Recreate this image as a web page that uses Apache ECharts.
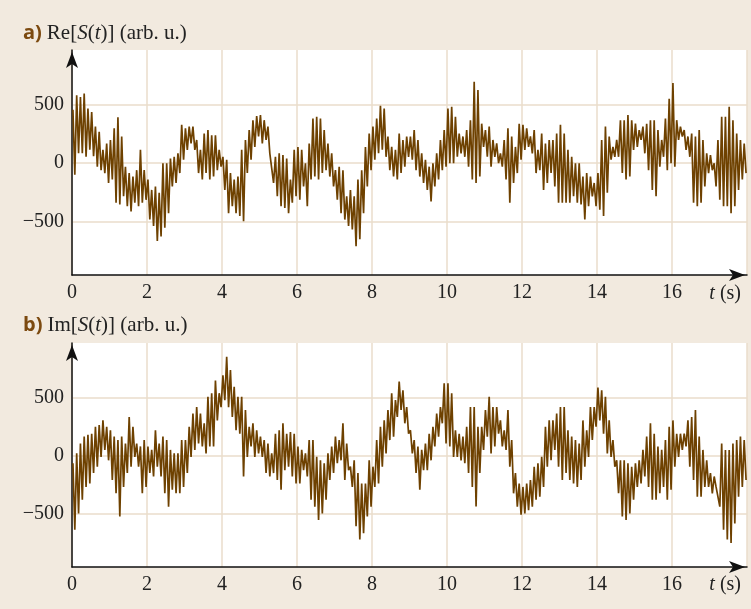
<!DOCTYPE html>
<html>
<head>
<meta charset="utf-8">
<script src="https://cdn.jsdelivr.net/npm/echarts@6/dist/echarts.min.js"></script>
<style>
  html, body { margin: 0; padding: 0; background: #f2eadf; }
  #chart { width: 751px; height: 609px; }
</style>
</head>
<body>
<div id="chart"></div>
<script>
// upper / lower swing of the fast oscillation in each 0.1 s slice
let reHigh = [
    460, 585, 570, 600, 470, 440, 315, 270, 115, 170,
    200, 300, 395, 230, -30, -85, -115, -60, 115, -60,
    -140, -230, -200, -255, 0, 0, 40, 55, 85, 330,
    300, 315, 315, 200, 115, 255, 285, 240, 240, 115,
    55, 30, -85, -140, -115, 115, 200, 285, 370, 405,
    415, 370, 315, 85, 55, 85, 70, 40, -140, 115,
    140, 115, 0, 170, 385, 400, 385, 285, 170, 85,
    -60, -30, -60, -285, -230, -285, -140, -60, 140, 255,
    315, 385, 495, 470, 230, 140, 115, 255, 200, 230,
    230, 285, 200, 85, 30, -30, 0, 85, 200, 285,
    470, 485, 400, 255, 230, 285, 370, 700, 630, 340,
    285, 315, 200, 170, 85, 200, 300, 230, 140, 340,
    330, 300, 230, 285, 115, 255, 170, 200, 200, 255,
    330, 255, 115, 55, 0, 0, -115, -85, -115, -170,
    -85, 200, 315, 230, 140, 200, 370, 370, 415, 370,
    340, 285, 315, 340, 370, 370, 285, 200, 385, 555,
    690, 370, 315, 285, 230, 255, 230, 285, 200, 85,
    70, 0, 200, 400, 400, 485, 370, 255, 200, 170
];
let reLow = [
    -100, 85, 85, 55, 115, 60, -30, -60, -85, -170,
    -140, -340, -355, -285, -370, -415, -340, -370, -340, -315,
    -485, -540, -670, -630, -555, -430, -200, -170, -85, 30,
    115, 170, 115, -85, -140, -85, -140, -115, -60, -30,
    -230, -430, -370, -430, -455, -500, -85, 30, 140, 230,
    170, 200, 85, -170, -285, -370, -385, -430, -340, -285,
    -315, -200, -370, -140, -115, -140, -85, -60, -115, -200,
    -315, -430, -485, -540, -570, -715, -655, -430, -200, -60,
    30, 85, 115, 55, -60, -115, -140, -85, -30, 55,
    30, -60, -115, -170, -230, -330, -200, -140, -60, -30,
    0, 0, 55, 85, 55, -30, -140, -170, -115, 140,
    55, -30, 55, 0, -30, -140, -340, -170, -85, 30,
    115, 140, 85, -85, -60, -230, -170, -85, -200, -340,
    -340, -340, -340, -285, -340, -355, -485, -370, -285, -370,
    -400, -455, -255, 30, 55, 55, -85, -140, -115, 115,
    140, 200, 85, -60, -230, -285, -30, 55, -60, 0,
    -30, 200, 230, 115, 55, -340, -370, -340, -200, -85,
    -60, -200, -315, -370, -370, -430, -370, -230, -140, -85
];
let imHigh = [
    -65, 20, 105, 165, 180, 190, 250, 265, 305, 250,
    220, 165, 135, 165, 105, 335, 250, 105, 80, 135,
    80, 50, 220, 105, 165, 135, 50, 20, 20, 135,
    135, 250, 365, 420, 365, 280, 510, 540, 650, 540,
    695, 855, 740, 595, 510, 510, 395, 250, 280, 220,
    165, 135, 105, 20, 190, 220, 280, 190, 205, 190,
    80, 50, 20, 135, 135, -10, -40, -65, 20, 80,
    165, 135, 280, 105, -95, -40, -150, -240, -240, -40,
    -95, 135, 250, 305, 395, 540, 480, 640, 565, 420,
    220, 135, 80, 50, 105, 190, 250, 365, 420, 625,
    625, 540, 220, 190, 165, 250, 420, 420, 250, 250,
    395, 510, 420, 420, 305, 220, 395, 135, -150, -240,
    -270, -240, -210, -95, -65, -10, 250, 305, 305, 365,
    420, 420, 220, 165, 135, 105, 305, 220, 420, 420,
    590, 565, 510, 305, 135, -40, -40, -40, -65, -95,
    -65, -40, 50, 165, 280, 190, 80, 50, 135, 250,
    305, 190, 190, 190, 305, 335, 395, 165, 50, -40,
    -150, -180, -270, 105, 50, 50, 105, 135, 165, 135
];
let imLow = [
    -640, -500, -380, -270, -240, -150, -95, -10, 50, -40,
    -210, -325, -525, -270, -150, -95, -10, -95, -325, -270,
    -150, -180, -95, -180, -325, -440, -295, -325, -325, -270,
    -150, -10, 50, 105, 80, 20, 80, 80, 305, 420,
    480, 420, 335, 220, 190, -180, -10, 80, -10, 20,
    -10, -150, -180, -150, -210, -295, -125, -95, -180, -240,
    -240, -125, -180, -380, -440, -555, -500, -380, -210, -150,
    -65, -40, -210, -125, -270, -610, -725, -670, -525, -440,
    -270, -240, -95, 20, 135, 165, 335, 395, 280, 190,
    20, -150, -295, -125, -125, -40, 80, 165, 280, 105,
    80, -10, -10, -40, -65, -150, -270, -440, -150, 50,
    165, 20, 80, 190, 80, 50, -95, -325, -440, -510,
    -500, -470, -440, -380, -355, -270, -95, -40, 50, -95,
    -210, -150, -210, -240, -270, -210, -95, -10, 135, 250,
    305, 190, 20, -10, -95, -325, -525, -555, -500, -380,
    -270, -240, -180, -270, -380, -380, -325, -270, -380, -295,
    -95, -10, 50, 80, -95, -210, -355, -355, -270, -270,
    -325, -270, -440, -640, -725, -755, -585, -355, -270, -210
];
let yTicks = [-500, 0, 500];
let sliceWidth = 0.1;

// interleave the two swings so the line zig-zags between them
function buildSignal(high, low) {
    let points = [];
    for (let i = 0; i < high.length; i++) {
        let t = i * sliceWidth;
        points.push([+(t + 0.025).toFixed(3), high[i]]);
        points.push([+(t + 0.075).toFixed(3), low[i]]);
    }
    return points;
}

let gridColor = '#eadccb';
let lineColor = '#6e4100';
let serif = '"Liberation Serif", "DejaVu Serif", serif';

function makeXAxis(gridIndex) {
    return {
        gridIndex: gridIndex,
        type: 'value',
        min: 0,
        max: 18,
        interval: 2,
        axisLine: {
            onZero: false,
            symbol: ['none', 'arrow'],
            symbolSize: [9, 16],
            symbolOffset: [0, -2],
            lineStyle: {color: '#111', width: 1.5}
        },
        axisTick: {show: false},
        axisLabel: {
            showMaxLabel: false,
            margin: 8,
            color: '#222',
            fontSize: 20,
            fontFamily: serif
        },
        splitLine: {show: true, lineStyle: {color: gridColor, width: 1.5}}
    };
}

function makeYAxis(gridIndex) {
    return {
        gridIndex: gridIndex,
        type: 'value',
        min: -962,
        max: 974,
        axisLine: {
            show: true,
            symbol: ['none', 'arrow'],
            symbolSize: [9, 16],
            symbolOffset: [0, -2],
            lineStyle: {color: '#111', width: 1.5}
        },
        axisTick: {show: false, customValues: yTicks},
        axisLabel: {
            customValues: yTicks,
            margin: 8,
            color: '#222',
            fontSize: 20,
            fontFamily: serif,
            formatter: function (v) {
                return String(v).replace('-', '\u2212');
            }
        },
        splitLine: {show: true, lineStyle: {color: gridColor, width: 1.5}}
    };
}

function panelTitle(letter, part, top) {
    return {
        left: 18,
        top: top,
        text: '{b|' + letter + ')} {s|' + part + '[}{i|S}{s|(}{i|t}{s|)] (arb. u.)}',
        textStyle: {
            fontWeight: 'normal',
            rich: {
                b: {fontFamily: '"Open Sans", sans-serif', fontWeight: 'bold', fontSize: 20, color: '#7c4a10'},
                s: {fontFamily: serif, fontWeight: 'normal', fontSize: 21, color: '#222'},
                i: {fontFamily: serif, fontWeight: 'normal', fontStyle: 'italic', fontSize: 21, color: '#222'}
            }
        }
    };
}

function timeLabel(top) {
    return {
        right: 5,
        top: top,
        text: '{i|t} {s|(s)}',
        textStyle: {
            fontWeight: 'normal',
            rich: {
                s: {fontFamily: serif, fontWeight: 'normal', fontSize: 20, color: '#222'},
                i: {fontFamily: serif, fontWeight: 'normal', fontStyle: 'italic', fontSize: 20, color: '#222'}
            }
        }
    };
}

let chart = echarts.init(document.getElementById('chart'));
let option = {
    backgroundColor: '#f2eadf',
    animation: false,
    title: [
        panelTitle('a', 'Re', 18),
        timeLabel(279),
        panelTitle('b', 'Im', 310),
        timeLabel(570)
    ],
    grid: [
        {left: 72, top: 50, width: 675, height: 225, show: true, backgroundColor: '#fff', borderWidth: 0},
        {left: 72, top: 343, width: 675, height: 224, show: true, backgroundColor: '#fff', borderWidth: 0}
    ],
    xAxis: [makeXAxis(0), makeXAxis(1)],
    yAxis: [makeYAxis(0), makeYAxis(1)],
    series: [
        {
            name: 'Re',
            type: 'line',
            xAxisIndex: 0,
            yAxisIndex: 0,
            showSymbol: false,
            sampling: null,
            lineStyle: {color: lineColor, width: 1.7},
            data: buildSignal(reHigh, reLow)
        },
        {
            name: 'Im',
            type: 'line',
            xAxisIndex: 1,
            yAxisIndex: 1,
            showSymbol: false,
            sampling: null,
            lineStyle: {color: lineColor, width: 1.7},
            data: buildSignal(imHigh, imLow)
        }
    ]
};
chart.setOption(option);
</script>
</body>
</html>
